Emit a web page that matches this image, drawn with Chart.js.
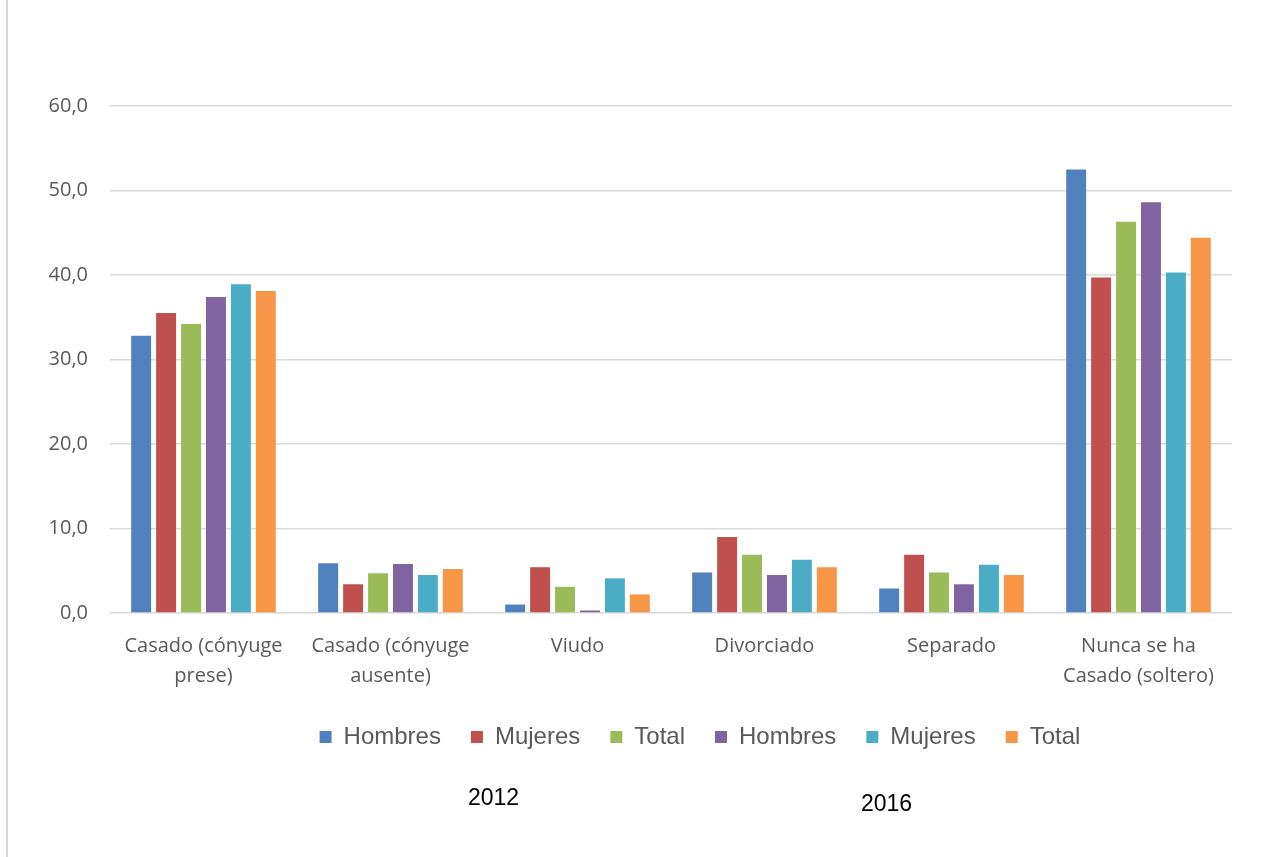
<!DOCTYPE html>
<html>
<head>
<meta charset="utf-8">
<script src="https://cdn.jsdelivr.net/npm/chart.js@4.4.1/dist/chart.umd.min.js"></script>
<style>
  html, body { margin: 0; padding: 0; background: #fff; }
  #wrap { position: relative; width: 1264px; height: 857px; }
  #frame { position: absolute; left: 6px; top: 0; width: 2px; height: 857px; background: #d9d9d9; }
  .year { position: absolute; font-family: "Liberation Sans", Arial, sans-serif; font-size: 23px; color: #000; }
</style>
</head>
<body>
<div id="wrap">
  <canvas id="estadoCivilChart" width="1264" height="857"></canvas>
  <div id="frame"></div>
  <div class="year" style="left:468px; top:784px;">2012</div>
  <div class="year" style="left:861px; top:790px;">2016</div>
</div>
<script>
const categorias = [
  ["Casado (cónyuge", "prese)"],
  ["Casado (cónyuge", "ausente)"],
  "Viudo",
  "Divorciado",
  "Separado",
  ["Nunca se ha", "Casado (soltero)"]
];

const seriesNombres = ["Hombres", "Mujeres", "Total", "Hombres", "Mujeres", "Total"];

const hombres2012 = [32.8, 5.9, 1.0, 4.8, 2.9, 52.5];
const mujeres2012 = [35.5, 3.4, 5.4, 9.0, 6.9, 39.7];
const total2012 = [34.2, 4.7, 3.1, 6.9, 4.8, 46.3];
const hombres2016 = [37.4, 5.8, 0.3, 4.5, 3.4, 48.6];
const mujeres2016 = [38.9, 4.5, 4.1, 6.3, 5.7, 40.3];
const total2016 = [38.1, 5.2, 2.2, 5.4, 4.5, 44.4];

const colores = ["#4F81BD", "#C0504D", "#9BBB59", "#8064A2", "#4BACC6", "#F79646"];

const valores = [hombres2012, mujeres2012, total2012, hombres2016, mujeres2016, total2016];

const data = {
  labels: categorias,
  datasets: valores.map((serie, i) => ({
    label: seriesNombres[i],
    data: serie,
    backgroundColor: colores[i],
    borderWidth: 0,
    barPercentage: 0.8,
    categoryPercentage: 0.8
  }))
};

// the legend in the original sits a bit right of centre and closer to the axis
const moverLeyenda = {
  id: "moverLeyenda",
  afterLayout(chart) {
    const lg = chart.legend;
    lg.left += 168;
    lg.top -= 6;
    lg.bottom -= 6;
  }
};

const config = {
  type: "bar",
  data: data,
  plugins: [moverLeyenda],
  options: {
    responsive: false,
    animation: false,
    layout: {
      padding: { top: 106, right: 32, bottom: 92, left: 0 }
    },
    plugins: {
      tooltip: { enabled: false },
      legend: {
        position: "bottom",
        labels: {
          boxWidth: 12,
          boxHeight: 12,
          padding: 30,
          color: "#595959",
          font: { family: "'Liberation Sans', Arial, sans-serif", size: 24 }
        }
      }
    },
    scales: {
      x: {
        grid: { display: false },
        border: { display: false },
        ticks: {
          color: "#595959",
          padding: 10,
          maxRotation: 0,
          autoSkip: false,
          font: { family: "'Open Sans', sans-serif", size: 20, lineHeight: 1.5 }
        }
      },
      y: {
        min: 0,
        max: 60,
        afterFit: function(scale) { scale.width = 110; },
        border: { display: false },
        grid: { color: "#d9d9d9", lineWidth: 1.5, drawTicks: false },
        ticks: {
          stepSize: 10,
          padding: 22,
          color: "#595959",
          font: { family: "'Open Sans', sans-serif", size: 20 },
          callback: function(value) {
            return value.toFixed(1).replace(".", ",");
          }
        }
      }
    }
  }
};

const ctx = document.getElementById("estadoCivilChart").getContext("2d");
new Chart(ctx, config);
</script>
</body>
</html>
